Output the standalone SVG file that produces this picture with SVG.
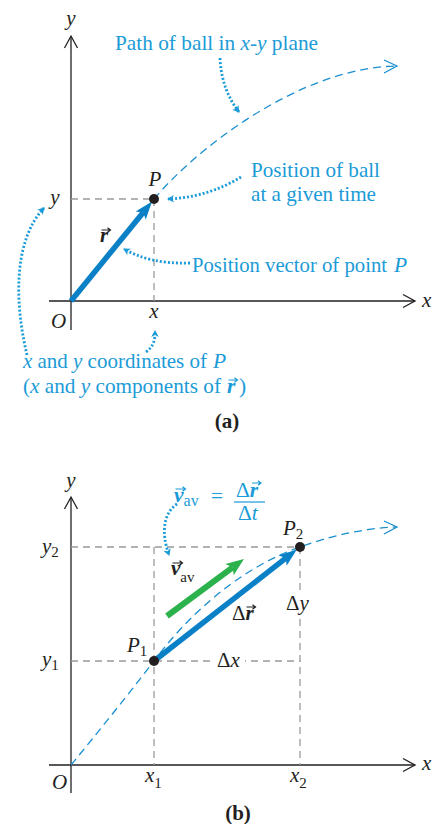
<svg xmlns="http://www.w3.org/2000/svg" width="437" height="824" viewBox="0 0 437 824">
<style>
.ax{stroke:#231f20;stroke-width:1.3;fill:none}
.chev{stroke:#231f20;stroke-width:1.3;fill:none}
.grid{stroke:#9a9a9a;stroke-width:1.3;stroke-dasharray:7 5;fill:none}
.path{stroke:#1a8fd0;stroke-width:1.3;stroke-dasharray:8 5;fill:none}
.pchev{stroke:#1a8fd0;stroke-width:1.3;fill:none}
.dot{stroke:#1a9ad6;stroke-width:2.8;stroke-dasharray:2 2;fill:none}
.vec{stroke:#0a80c6;stroke-width:5.5;fill:none}
.gvec{stroke:#2bb24c;stroke-width:6;fill:none}
.t{font-family:"Liberation Serif","Times New Roman",serif;font-size:21px;fill:#231f20}
.i{font-style:italic}
.bt{font-family:"Liberation Serif","Times New Roman",serif;font-size:21.5px;fill:#1b9bd7}
.b{font-weight:bold}
.sub{font-size:15px}
.acc{stroke-width:1.2;fill:none}
</style>
<defs>
<marker id="hb" markerUnits="userSpaceOnUse" viewBox="-5 -8 21 16" markerWidth="21" markerHeight="16" refX="0" refY="0" orient="auto">
<path d="M14,0 L-4,-6.5 L0,0 L-4,6.5 Z" fill="#0a80c6"/>
</marker>
<marker id="hg" markerUnits="userSpaceOnUse" viewBox="-5 -8 21 16" markerWidth="21" markerHeight="16" refX="0" refY="0" orient="auto">
<path d="M14,0 L-4,-7 L0,0 L-4,7 Z" fill="#2bb24c"/>
</marker>
<marker id="hd" markerUnits="userSpaceOnUse" viewBox="-8 -5 10 10" markerWidth="10" markerHeight="10" refX="0" refY="0" orient="auto">
<path d="M1,0 L-6,-3.8 L-4,0 L-6,3.8 Z" fill="#1a9ad6"/>
</marker>
</defs>

<!-- ===== (a) ===== -->
<g id="axes-a">
<line class="ax" x1="71" y1="37" x2="71" y2="330"/>
<polyline class="chev" points="64.5,48 71,36 77.5,48"/>
<line class="ax" x1="49" y1="301" x2="415" y2="301"/>
<polyline class="chev" points="403,294.5 415,301 403,307.5"/>
<text class="t i" x="71" y="25" text-anchor="middle">y</text>
<text class="t i" x="422" y="307">x</text>
<text class="t i" x="51" y="328">O</text>
</g>
<g id="grid-a">
<line class="grid" x1="71" y1="199" x2="154" y2="199"/>
<line class="grid" x1="154" y1="199" x2="154" y2="301"/>
<text class="t i" x="55" y="204" text-anchor="middle">y</text>
<text class="t i" x="154" y="318" text-anchor="middle">x</text>
</g>
<g id="path-a">
<path class="path" d="M154,199 C197,148 300,68 396,66"/>
<polyline class="pchev" points="384,60 397,66 384,73"/>
</g>
<g id="vector-r">
<line class="vec" x1="71" y1="301" x2="143.2" y2="212.4" marker-end="url(#hb)"/>
<text class="t i b" x="100" y="242">r</text>
<path class="acc" stroke="#231f20" d="M101.5,230 h9 m-3,-2.3 l3,2.3 l-3,2.3"/>
</g>
<g id="point-P">
<circle cx="154" cy="199" r="5" fill="#231f20"/>
<text class="t i" x="155" y="186" text-anchor="middle" font-size="22">P</text>
</g>
<g id="label-path">
<text class="bt" x="115" y="50" textLength="203" lengthAdjust="spacingAndGlyphs">Path of ball in <tspan class="i">x</tspan>-<tspan class="i">y</tspan> plane</text>
</g>
<g id="label-position">
<text class="bt" x="251" y="177" textLength="129" lengthAdjust="spacingAndGlyphs">Position of ball</text>
<text class="bt" x="251" y="201" textLength="125" lengthAdjust="spacingAndGlyphs">at a given time</text>
</g>
<g id="label-vector">
<text class="bt" x="192" y="272" textLength="195" lengthAdjust="spacingAndGlyphs">Position vector of point</text>
<text class="bt i" x="394" y="272">P</text>
</g>
<g id="label-coords">
<text class="bt" x="23" y="368" textLength="184" lengthAdjust="spacingAndGlyphs"><tspan class="i">x</tspan> and <tspan class="i">y</tspan> coordinates of</text>
<text class="bt i" x="213" y="368">P</text>
<text class="bt" x="23" y="393" textLength="198" lengthAdjust="spacingAndGlyphs">(<tspan class="i">x</tspan> and <tspan class="i">y</tspan> components of</text>
<text class="bt i b" x="227" y="393">r</text>
<text class="bt" x="239" y="393">)</text>
<path class="acc" stroke="#1b9bd7" d="M228.5,380 h9 m-3,-2.3 l3,2.3 l-3,2.3"/>
</g>
<g id="connectors-a">
<path class="dot" d="M220,58 C221,80 228,98 239,112" marker-end="url(#hd)"/>
<path class="dot" d="M241,177 C220,190 195,198 168,199" marker-end="url(#hd)"/>
<path class="dot" d="M190,263 C160,264 140,258 124,249" marker-end="url(#hd)"/>
<path class="dot" d="M27,355 C14,300 14,240 44,208" marker-end="url(#hd)"/>
<path class="dot" d="M146,352 C154,346 155,340 155,331" marker-end="url(#hd)"/>
</g>
<text class="t b" x="227" y="428" text-anchor="middle" font-size="22">(a)</text>

<!-- ===== (b) ===== -->
<g id="axes-b">
<line class="ax" x1="71" y1="498" x2="71" y2="793"/>
<polyline class="chev" points="64.5,509 71,497 77.5,509"/>
<line class="ax" x1="49" y1="765" x2="415" y2="765"/>
<polyline class="chev" points="403,758.5 415,765 403,771.5"/>
<text class="t i" x="71" y="487" text-anchor="middle">y</text>
<text class="t i" x="422" y="770">x</text>
<text class="t i" x="52" y="789">O</text>
</g>
<g id="grid-b">
<line class="grid" x1="71" y1="547" x2="300" y2="547"/>
<line class="grid" x1="71" y1="661" x2="300" y2="661"/>
<line class="grid" x1="154" y1="547" x2="154" y2="765"/>
<line class="grid" x1="300" y1="547" x2="300" y2="765"/>
<text class="t i" x="42" y="553">y<tspan class="sub" font-style="normal" dy="4">2</tspan></text>
<text class="t i" x="42" y="666">y<tspan class="sub" font-style="normal" dy="4">1</tspan></text>
<text class="t i" x="145" y="782">x<tspan class="sub" font-style="normal" dy="6">1</tspan></text>
<text class="t i" x="290" y="782">x<tspan class="sub" font-style="normal" dy="6">2</tspan></text>
</g>
<g id="path-b">
<path class="path" d="M71,765 C99,731 127,696 154,661 C188,615 240,568 300,547 C330,536 365,528 396,527"/>
<polyline class="pchev" points="384,521 397,527 384,534"/>
</g>
<g id="vector-dr">
<line class="vec" x1="154" y1="661" x2="285.8" y2="558.1" marker-end="url(#hb)"/>
<text class="t" x="232" y="620">Δ<tspan class="i b">r</tspan></text>
<path class="acc" stroke="#231f20" d="M246.5,607 h9 m-3,-2.3 l3,2.3 l-3,2.3"/>
</g>
<g id="vector-vav">
<line class="gvec" x1="167" y1="616" x2="232.7" y2="567.3" marker-end="url(#hg)"/>
<text class="t i b" x="171" y="575" font-size="22">v<tspan class="sub" font-weight="normal" font-style="normal" dy="7" font-size="16">av</tspan></text>
<path class="acc" stroke="#231f20" d="M172.5,563 h10 m-3,-2.3 l3,2.3 l-3,2.3"/>
</g>
<g id="point-P1">
<circle cx="154" cy="661" r="5" fill="#231f20"/>
<text class="t i" x="127" y="652" font-size="22">P<tspan class="sub" font-style="normal" dy="4">1</tspan></text>
</g>
<g id="point-P2">
<circle cx="300" cy="547" r="5" fill="#231f20"/>
<text class="t i" x="283" y="535" font-size="22">P<tspan class="sub" font-style="normal" dy="4">2</tspan></text>
</g>
<g id="label-dx">
<rect x="215" y="650" width="30" height="20" fill="#fff"/>
<text class="t" x="217" y="667">Δ<tspan class="i">x</tspan></text>
</g>
<g id="label-dy">
<rect x="294" y="592" width="12" height="24" fill="#fff"/>
<text class="t" x="286" y="610">Δ<tspan class="i">y</tspan></text>
</g>
<g id="formula">
<text class="bt" x="174" y="502" font-size="22"><tspan class="i b">v</tspan><tspan font-size="16" dy="4">av</tspan></text>
<path class="acc" stroke="#1b9bd7" d="M175.5,489 h10 m-3,-2.3 l3,2.3 l-3,2.3"/>
<text class="bt" x="211" y="503" font-size="22">=</text>
<text class="bt" x="236" y="497" font-size="22">Δ<tspan class="i b">r</tspan></text>
<path class="acc" stroke="#1b9bd7" d="M252,483 h9 m-3,-2.3 l3,2.3 l-3,2.3"/>
<line x1="234" y1="502" x2="265" y2="502" stroke="#1b9bd7" stroke-width="1.2"/>
<text class="bt" x="238" y="520" font-size="22">Δ<tspan class="i">t</tspan></text>
</g>
<g id="connectors-b">
<path class="dot" d="M177,504 C165,512 160,530 169,555" marker-end="url(#hd)"/>
</g>
<text class="t b" x="238" y="820" text-anchor="middle" font-size="22">(b)</text>
</svg>
